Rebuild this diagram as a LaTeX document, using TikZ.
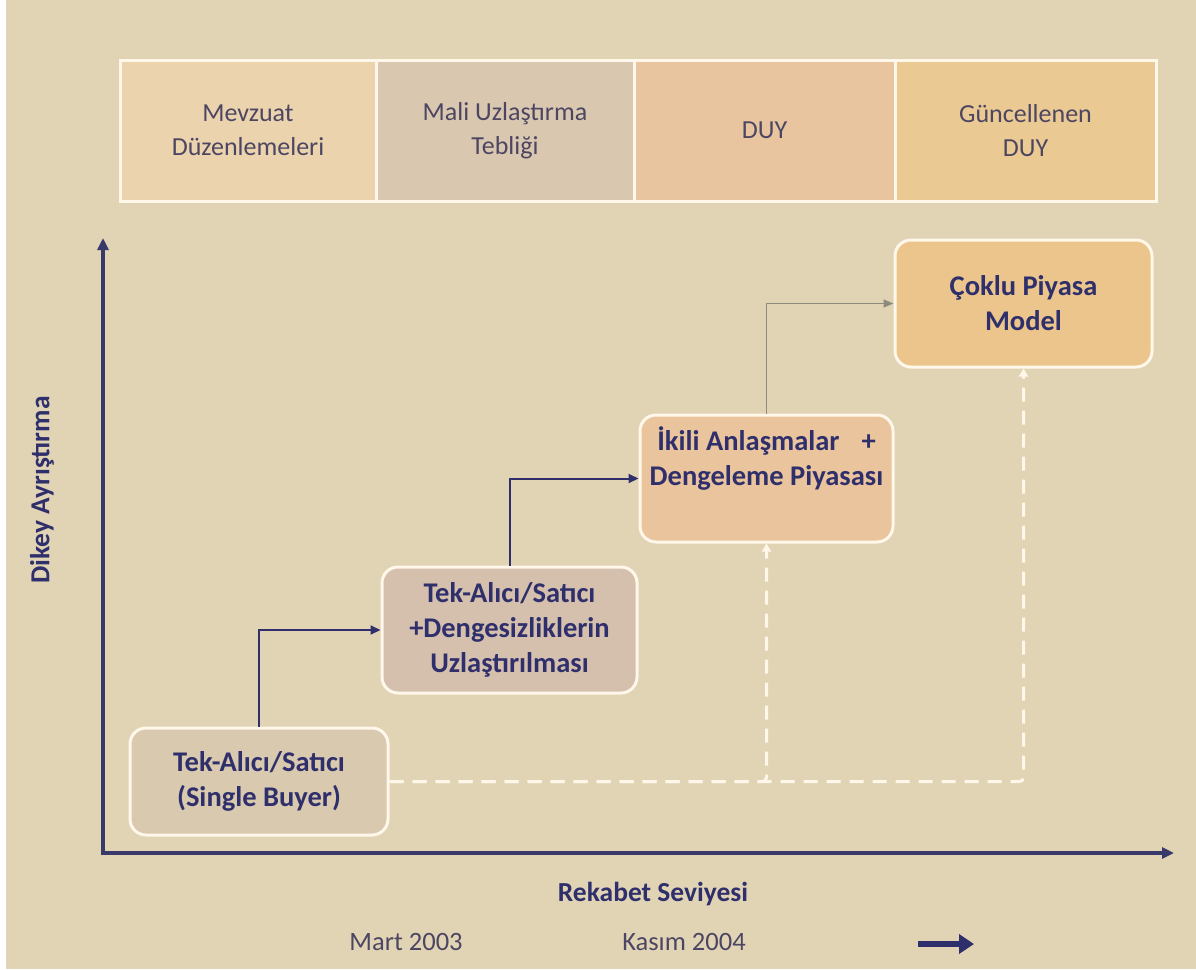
\documentclass[tikz,border=0pt]{standalone}
\usepackage{fontspec}
\setmainfont{Carlito}
\usetikzlibrary{arrows.meta}
\definecolor{bg}{HTML}{E1D4B5}
\definecolor{navy}{HTML}{2F2F6C}
\definecolor{axisc}{HTML}{3A3A6A}
\definecolor{cellA}{HTML}{EBD3AE}
\definecolor{cellB}{HTML}{DAC7B0}
\definecolor{cellC}{HTML}{E8C59E}
\definecolor{cellD}{HTML}{EACA92}
\definecolor{boxA}{HTML}{D9C9AE}
\definecolor{boxB}{HTML}{D5C0AE}
\definecolor{boxC}{HTML}{E9C49C}
\definecolor{boxD}{HTML}{EBC58B}
\definecolor{rim}{HTML}{FFF7EA}
\definecolor{toptext}{HTML}{4D4662}
\definecolor{greyarrow}{HTML}{8C8B7C}
\begin{document}
\begin{tikzpicture}[x=1pt,y=-1pt,
  cell/.style={draw=rim,line width=3pt,inner sep=0pt,minimum height=141pt,align=center,
    text=toptext,font=\fontsize{26}{34}\selectfont},
  stagebox/.style={draw=rim,line width=3pt,rounded corners=16pt,inner sep=0pt,align=center,
    text=navy,font=\fontsize{28.5}{35}\selectfont\bfseries},
  navyarrow/.style={draw=navy,line width=2pt,-{Triangle[length=10pt,width=9pt]}},
  greyarr/.style={draw=greyarrow,line width=1.6pt,-{Triangle[length=10pt,width=8pt]}},
  dashline/.style={draw=rim,line width=3pt,dash pattern=on 14pt off 9pt,rounded corners=4pt,
    -{Triangle[length=8pt,width=9pt]}},
  axislabel/.style={text=navy,font=\fontsize{27.5}{32}\selectfont\bfseries},
  datelabel/.style={text=toptext,font=\fontsize{26.5}{30}\selectfont}]
\useasboundingbox (0,0) rectangle (1196,969);
\fill[bg] (0,0) rectangle (1196,969);
\fill[white] (0,0) rectangle (6,969);

% top band
\node[cell,fill=cellA,minimum width=256pt] (c1) at (248,130.5) {Mevzuat\\Düzenlemeleri};
\node[cell,fill=cellB,minimum width=258pt] (c2) at (505,130.5) {Mali Uzlaştırma\\Tebliği};
\node[cell,fill=cellC,minimum width=261pt] (c3) at (764.5,130.5) {DUY};
\node[cell,fill=cellD,minimum width=261pt] (c4) at (1025.5,130.5) {Güncellenen\\DUY};

% axes
\coordinate (yend) at (103,238);
\coordinate (origin) at (103,853);
\coordinate (xend) at (1174,853);
\draw[axisc,line width=3.5pt,{Triangle[length=12pt,width=11pt]}-{Triangle[length=12pt,width=11pt]}]
  (yend) -- (origin) -- (xend);
\node[axislabel,rotate=90] (ylab) at (42,490) {Dikey Ayrıştırma};
\node[axislabel] (xlab) at (653,894) {Rekabet Seviyesi};
\node[datelabel] (d1) at (406,942) {Mart 2003};
\node[datelabel] (d2) at (684,942) {Kasım 2004};
\coordinate (ta) at (918,944);
\coordinate (tb) at (974,944);
\draw[navy,line width=6pt,-{Triangle[length=15pt,width=19pt]}] (ta) -- (tb);

% stage boxes
\node[stagebox,fill=boxA,minimum width=258pt,minimum height=107pt] (b1) at (259,781.5)
  {Tek-Alıcı/Satıcı\\(Single Buyer)};
\node[stagebox,fill=boxB,minimum width=255pt,minimum height=126pt] (b2) at (509.5,630)
  {Tek-Alıcı/Satıcı\\+Dengesizliklerin\\Uzlaştırılması};
\node[stagebox,fill=boxC,minimum width=253pt,minimum height=127pt] (b3) at (766.5,478.5)
  {İkili Anlaşmalar\hspace{22pt}+\\Dengeleme Piyasası\\\strut};
\node[stagebox,fill=boxD,minimum width=257pt,minimum height=127pt] (b4) at (1023.5,303.5)
  {Çoklu Piyasa\\Model};

% connectors
\draw[navyarrow] (b1.north) |- (b2.west);
\draw[navyarrow] (b2.north) |- (b3.west);
\draw[greyarr] (b3.north) |- (b4.west);
\draw[dashline] (b1.east) -| (b4.south);
\draw[dashline] (b1.east) -| (b3.south);
\end{tikzpicture}
\end{document}
